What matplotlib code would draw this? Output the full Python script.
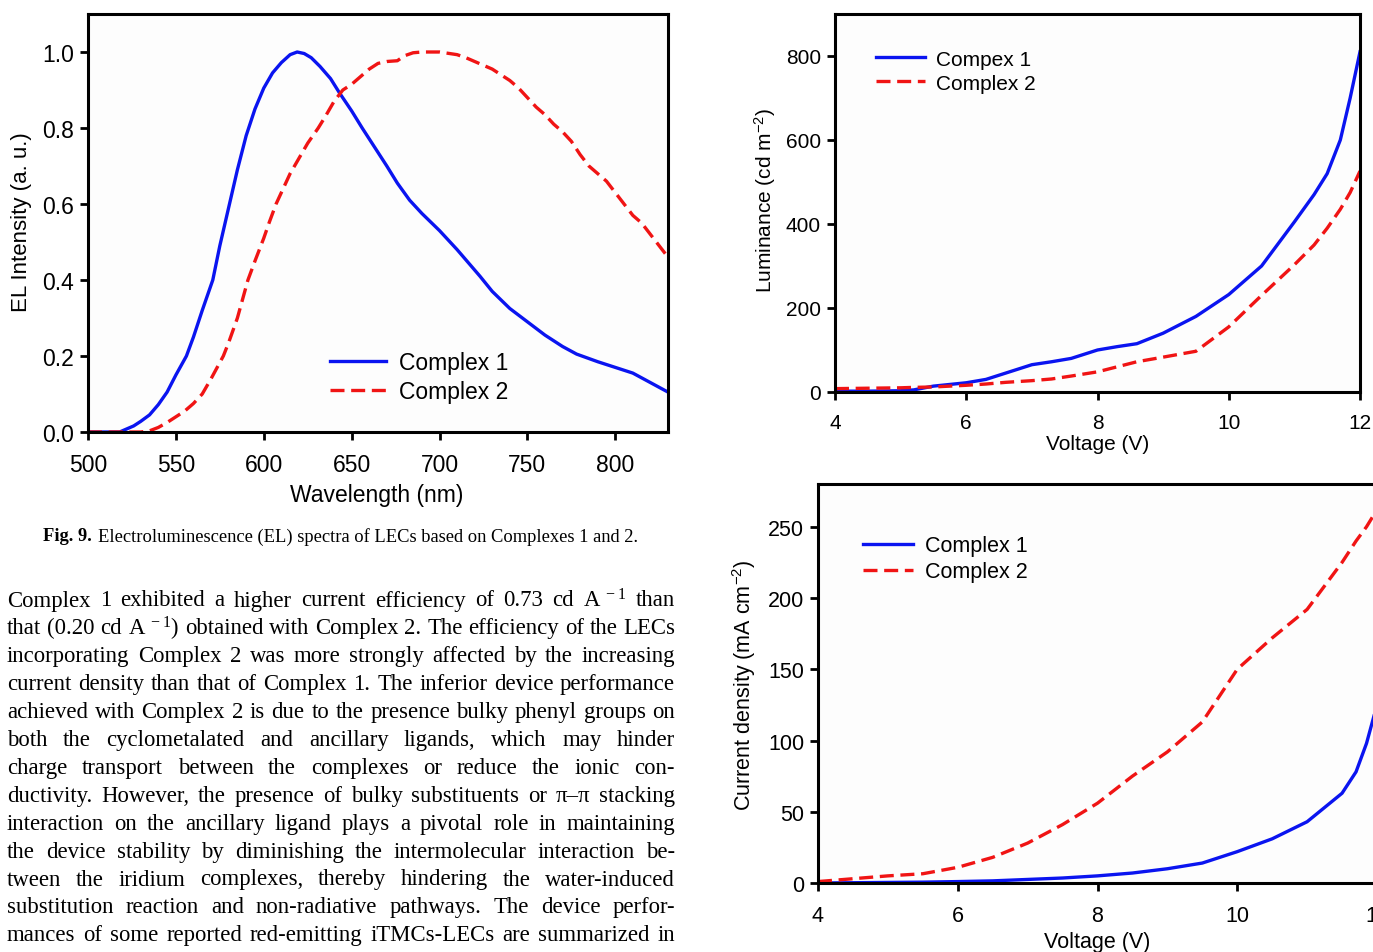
import matplotlib
matplotlib.use("Agg")
import matplotlib.pyplot as plt

W, H = 1373, 953

# EL spectra (Fig. 9)
wl_1 = [500, 510, 518, 522, 526, 530, 535, 540, 545, 550, 556, 560, 565, 571, 575, 580, 585, 590,
        595, 600, 605, 610, 615, 619, 623, 627, 632, 638, 643, 650, 656, 663, 670, 676, 683, 690,
        700, 710, 723, 730, 740, 750, 760, 770, 778, 790, 800, 810, 820, 830]
el_1 = [0, 0, 0, 0.008, 0.016, 0.028, 0.045, 0.072, 0.105, 0.15, 0.2, 0.25, 0.32, 0.40, 0.49, 0.59,
        0.69, 0.78, 0.85, 0.905, 0.945, 0.972, 0.993, 1.0, 0.996, 0.985, 0.962, 0.93, 0.893, 0.845,
        0.8, 0.75, 0.70, 0.655, 0.61, 0.575, 0.53, 0.48, 0.41, 0.37, 0.325, 0.29, 0.255, 0.225,
        0.205, 0.185, 0.17, 0.155, 0.13, 0.105]
wl_2 = [500, 520, 530, 535, 540, 545, 550, 555, 560, 565, 570, 577, 580, 585, 591, 595, 600, 603,
        607, 610, 615, 620, 625, 631, 635, 640, 645, 650, 655, 660, 665, 670, 676, 680, 685, 690,
        700, 710, 715, 720, 725, 730, 735, 740, 745, 750, 755, 760, 765, 770, 775, 780, 785, 790,
        795, 800, 805, 810, 815, 820, 825, 830]
el_2 = [0, 0, 0, 0.003, 0.012, 0.025, 0.04, 0.055, 0.075, 0.10, 0.14, 0.2, 0.235, 0.3, 0.4, 0.45,
        0.51, 0.55, 0.6, 0.63, 0.68, 0.72, 0.76, 0.8, 0.83, 0.87, 0.9, 0.915, 0.935, 0.955, 0.97,
        0.975, 0.977, 0.99, 0.998, 1.0, 1.0, 0.993, 0.985, 0.975, 0.965, 0.955, 0.94, 0.925, 0.905,
        0.88, 0.855, 0.835, 0.81, 0.79, 0.765, 0.73, 0.7, 0.68, 0.66, 0.63, 0.6, 0.57, 0.55, 0.52,
        0.49, 0.46]

# luminance vs voltage
v_lum = [4, 4.5, 5, 5.2, 5.5, 6, 6.3, 6.6, 7, 7.3, 7.6, 8, 8.3, 8.6, 9, 9.5, 10, 10.5, 11, 11.3,
         11.5, 11.7, 11.85, 12]
lum_1 = [2, 2, 3, 5, 14, 22, 30, 45, 65, 72, 80, 100, 108, 115, 140, 180, 232, 300, 405, 470, 520,
         600, 700, 810]
lum_2 = [8, 9, 10, 11, 12, 16, 19, 23, 27, 31, 38, 48, 60, 72, 83, 97, 155, 230, 303, 350, 390,
         435, 475, 526]

# current density vs voltage
v_j = [4, 4.5, 5, 5.5, 6, 6.5, 7, 7.5, 8, 8.5, 9, 9.5, 10, 10.5, 11, 11.5, 11.7, 11.85, 12]
j_1 = [0, 0.2, 0.4, 0.6, 1, 1.5, 2.5, 3.5, 5, 7, 10, 14, 22, 31, 43, 63, 78, 98, 125]
j_2 = [1, 3, 5, 6.5, 11, 18, 28, 41, 56, 75, 92, 113, 150, 172, 192, 225, 240, 250, 262]

labels_el = ["Complex 1", "Complex 2"]
labels_lum = ["Compex 1", "Complex 2"]

caption_bold = "Fig. 9."
caption_rest = "Electroluminescence (EL) spectra of LECs based on Complexes 1 and 2."
body = [
    r"Complex 1 exhibited a higher current efficiency of 0.73 cd A$\mathregular{^{\,-1}}$ than",
    r"that (0.20 cd A$\mathregular{^{\,-1}}$) obtained with Complex 2. The efficiency of the LECs",
    "incorporating Complex 2 was more strongly affected by the increasing",
    "current density than that of Complex 1. The inferior device performance",
    "achieved with Complex 2 is due to the presence bulky phenyl groups on",
    "both the cyclometalated and ancillary ligands, which may hinder",
    "charge transport between the complexes or reduce the ionic con-",
    "ductivity. However, the presence of bulky substituents or \u03c0\u2013\u03c0 stacking",
    "interaction on the ancillary ligand plays a pivotal role in maintaining",
    "the device stability by diminishing the intermolecular interaction be-",
    "tween the iridium complexes, thereby hindering the water-induced",
    "substitution reaction and non-radiative pathways. The device perfor-",
    "mances of some reported red-emitting iTMCs-LECs are summarized in",
]

plt.rcParams['font.family'] = ['Liberation Sans', 'DejaVu Sans']

fig = plt.figure(figsize=(W / 100, H / 100), dpi=100)
fig.patch.set_facecolor('white')

BLUE = '#0a14f0'
RED = '#f01414'


def px_axes(x0, y0, x1, y1):
    return fig.add_axes([x0 / W, 1 - y1 / H, (x1 - x0) / W, (y1 - y0) / H])


def style(ax, fs, xpad):
    for s in ax.spines.values():
        s.set_linewidth(2.2)
        s.set_color('black')
    ax.tick_params(direction='out', length=6, width=2, labelsize=fs, pad=4)
    ax.tick_params(axis='x', pad=xpad)
    ax.set_facecolor('#fdfdfd')


def curves(ax, x1, y1, x2, y2, labels, fs, anchor, hl):
    ax.plot(x1, y1, color=BLUE, lw=2.4, label=labels[0])
    ax.plot(x2, y2, color=RED, lw=2.4, dashes=(4.2, 2.0), label=labels[1])
    ax.legend(loc='upper left', bbox_to_anchor=anchor, frameon=False, fontsize=fs,
              borderpad=0, borderaxespad=0, handlelength=hl, handletextpad=0.55,
              labelspacing=0.25)


# left: EL spectra
ax1 = px_axes(88, 15, 668, 433)
curves(ax1, wl_1, el_1, wl_2, el_2, labels_el, 16.5, (0.417, 0.194), 2.45)
ax1.set_xlim(500, 830)
ax1.set_ylim(0, 1.1)
ax1.set_xticks(range(500, 801, 50))
ax1.set_yticks([0, 0.2, 0.4, 0.6, 0.8, 1.0])
ax1.set_yticklabels(['0.0', '0.2', '0.4', '0.6', '0.8', '1.0'])
style(ax1, 16.5, 9)
ax1.set_xlabel('Wavelength (nm)', fontsize=16.5)
ax1.set_ylabel('EL Intensity (a. u.)', fontsize=16)
ax1.xaxis.set_label_coords(0.498, -0.123)
ax1.yaxis.set_label_coords(-0.096, 0.505)

# top right: luminance
ax2 = px_axes(835, 15, 1360, 393)
curves(ax2, v_lum, lum_1, v_lum, lum_2, labels_lum, 15, (0.078, 0.906), 2.35)
ax2.set_xlim(4, 12)
ax2.set_ylim(0, 900)
ax2.set_xticks(range(4, 13, 2))
ax2.set_yticks(range(0, 801, 200))
style(ax2, 15, 9)
ax2.set_xlabel('Voltage (V)', fontsize=15)
ax2.set_ylabel(r'Luminance (cd m$\mathregular{^{-2}}$)', fontsize=15)
ax2.xaxis.set_label_coords(0.5, -0.11)
ax2.yaxis.set_label_coords(-0.108, 0.51)

# bottom right: current density
ax3 = px_axes(818, 485, 1377, 884)
curves(ax3, v_j, j_1, v_j, j_2, labels_el, 15.5, (0.08, 0.872), 2.35)
ax3.set_xlim(4, 12)
ax3.set_ylim(0, 280)
ax3.set_xticks(range(4, 13, 2))
ax3.set_yticks(range(0, 251, 50))
style(ax3, 15.5, 10)
ax3.set_xlabel('Voltage (V)', fontsize=15.5)
ax3.set_ylabel(r'Current density (mA cm$\mathregular{^{-2}}$)', fontsize=15.5)
ax3.xaxis.set_label_coords(0.499, -0.12)
ax3.yaxis.set_label_coords(-0.107, 0.499)

# caption and body text, laid out in pixels
rend = fig.canvas.get_renderer()
serif = ['Liberation Serif', 'DejaVu Serif']


def width(t):
    return t.get_window_extent(rend).width


cb = fig.text(0, 1 - 537 / H, caption_bold, family=serif, weight='bold', fontsize=13.3,
              va='center', ha='left')
cr = fig.text(0, 1 - 537 / H, caption_rest, family=serif, fontsize=13.3, va='center', ha='left')
gap = 6
total = width(cb) + gap + width(cr)
cx0 = 341 - total / 2
cb.set_x(cx0 / W)
cr.set_x((cx0 + width(cb) + gap) / W)

# pick the body font size so the tightest line still has a real word gap
x_left, x_right = 7, 675
fs0 = 15
rows = []
for line in body:
    ts = [fig.text(0, 0, w, family=serif, fontsize=fs0, va='center', ha='left')
          for w in line.split(' ')]
    rows.append(ts)
min_gap = 0.24 * fs0 * 100 / 72
k = min((x_right - x_left) / (sum(width(t) for t in ts) + (len(ts) - 1) * min_gap)
        for ts in rows)
fs = min(fs0 * k, 17.5)

for i, ts in enumerate(rows):
    y = 601 + i * 27.9
    for t in ts:
        t.set_fontsize(fs)
        t.set_y(1 - y / H)
    ws = [width(t) for t in ts]
    g = (x_right - x_left - sum(ws)) / (len(ws) - 1)
    x = x_left
    for t, w in zip(ts, ws):
        t.set_x(x / W)
        x += w + g

fig.savefig('out.png', dpi=100)
